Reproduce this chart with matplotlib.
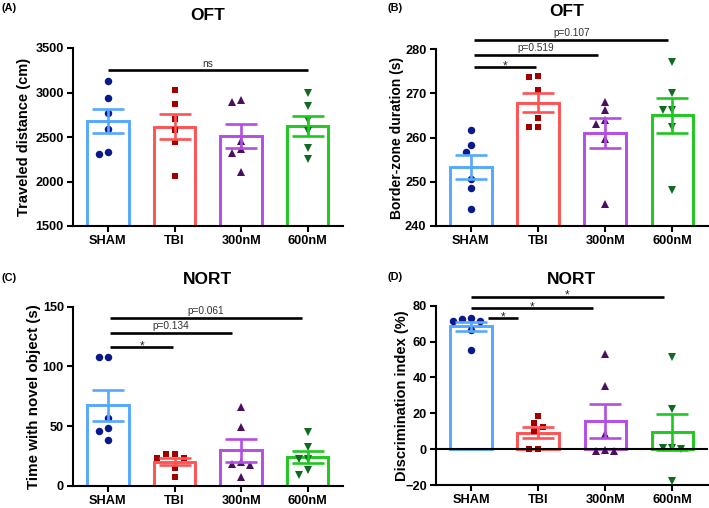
import numpy as np
import matplotlib
matplotlib.use('Agg')
import matplotlib.pyplot as plt

plt.rcParams['font.family'] = ['Liberation Sans', 'DejaVu Sans']

groups = ['SHAM', 'TBI', '300nM', '600nM']

# Panel A: OFT traveled distance (cm)
oft_distance = [
    [3130, 2941, 2774, 2589, 2330, 2307],
    [3026, 2870, 2700, 2581, 2448, 2063],
    [2889, 2915, 2452, 2370, 2322, 2107],
    [3000, 2848, 2693, 2563, 2378, 2256],
]
# Panel B: OFT border-zone duration (s)
oft_border = [
    [261.6, 258.3, 256.7, 250.7, 248.6, 243.8],
    [273.6, 273.9, 270.7, 264.4, 262.4, 262.4],
    [268.1, 266.3, 263.9, 263.1, 259.6, 245.0],
    [277.0, 270.0, 266.2, 266.2, 262.4, 248.1],
]
# Panel C: NORT time with novel object (s)
nort_time = [
    [107.5, 107.5, 56.4, 48.6, 46.1, 38.3],
    [26.3, 26.8, 23.0, 23.0, 14.5, 7.5],
    [66.2, 48.9, 19.6, 17.9, 17.3, 7.5],
    [44.7, 32.7, 22.3, 22.3, 13.1, 8.9],
]
# Panel D: NORT discrimination index (%)
nort_di = [
    [71.6, 72.5, 71.6, 72.9, 66.5, 55.3],
    [14.8, 18.3, 9.9, 12.1, 0.0, 0.0],
    [52.9, 35.1, 8.4, -0.4, -1.0, -1.3],
    [51.6, 22.6, 0.7, 0.4, -0.2, -17.6],
]

# significance comparisons: (start group, end group, height, label)
sig_A = [(0.0, 3.0, 3248, 'ns')]
sig_B = [(0.05, 0.97, 275.9, '*'), (0.05, 1.89, 278.7, 'p=0.519'), (0.05, 2.94, 282.1, 'p=0.107')]
sig_C = [(0.03, 0.98, 115.9, '*'), (0.03, 1.86, 128.2, 'p=0.134'), (0.03, 2.92, 140.8, 'p=0.061')]
sig_D = [(0.25, 0.70, 72.9, '*'), (0.0, 1.82, 78.5, '*'), (0.0, 2.87, 85.0, '*')]

bar_colors = ['#55A8FF', '#FF5252', '#B44CE6', '#1FC81F']
pt_colors = ['#0A1A8C', '#A00000', '#4A0F60', '#0F6B1E']
markers = ['o', 's', '^', 'v']
msizes = [5.4, 5.0, 5.6, 5.6]

W, H = 709, 508
fig = plt.figure(figsize=(W / 100, H / 100), dpi=100)


def swarm(vals, px_per_unit, diam=7.5):
    vals = np.asarray(vals, float)
    order = np.argsort(-vals)
    placed = []
    offs = np.zeros(len(vals))
    step = diam * 0.6
    for i in order:
        yp = vals[i] * px_per_unit
        for k in [0, -1, 1, -2, 2, -3, 3, -4, 4]:
            xp = k * step
            if all((xp - a) ** 2 + (yp - b) ** 2 >= (diam * 0.95) ** 2 for a, b in placed):
                break
        placed.append((xp, yp))
        offs[i] = xp
    return offs


def panel(rect_px, data, ylim, yticks, ylabel, ylabel_size, label_x, sig, zero_line=False):
    l, t, r, b = rect_px
    ax = fig.add_axes([l / W, 1 - b / H, (r - l) / W, (b - t) / H])
    xlim = (-0.525, 3.53)
    ax.set_xlim(*xlim)
    ax.set_ylim(*ylim)
    ax_h = b - t
    ax_w = r - l
    ppu_y = ax_h / (ylim[1] - ylim[0])
    ppu_x = ax_w / (xlim[1] - xlim[0])
    x = np.arange(len(groups))
    means = [np.mean(d) for d in data]
    sems = [np.std(d, ddof=1) / np.sqrt(len(d)) for d in data]
    ax.bar(x, means, width=0.62, bottom=0, color='white', edgecolor=bar_colors,
           linewidth=2.1, zorder=2)
    for i, d in enumerate(data):
        offs = swarm(d, ppu_y) / ppu_x
        ax.plot(i + offs, d, linestyle='none', marker=markers[i], ms=msizes[i],
                color=pt_colors[i], markeredgewidth=0, zorder=3)
        ax.errorbar(i, means[i], yerr=sems[i], color=bar_colors[i], elinewidth=1.9,
                    capsize=11.5, capthick=1.9, zorder=4)
    if zero_line:
        ax.axhline(0, color='black', lw=1.5, zorder=5)
    for (s, e, yv, lab) in sig:
        ax.plot([s, e], [yv, yv], color='black', lw=1.9, clip_on=False,
                solid_capstyle='butt', zorder=6)
        if lab == '*':
            ax.annotate(lab, xy=((s + e) / 2, yv), xytext=(0, -1.5), textcoords='offset points',
                        ha='center', va='baseline', fontsize=8.5, color='#222222',
                        annotation_clip=False)
        else:
            ax.annotate(lab, xy=((s + e) / 2, yv), xytext=(0, 2.8), textcoords='offset points',
                        ha='center', va='baseline', fontsize=7.3, color='#333333',
                        annotation_clip=False)
    ax.set_yticks(yticks)
    ax.set_xticks(x)
    ax.set_xticklabels(groups)
    for sp in ['top', 'right']:
        ax.spines[sp].set_visible(False)
    for sp in ['left', 'bottom']:
        ax.spines[sp].set_linewidth(1.5)
    ax.tick_params(axis='both', direction='out', length=4, width=1.5,
                   labelsize=9.2, pad=2.5)
    for tl in ax.get_xticklabels() + ax.get_yticklabels():
        tl.set_fontweight('bold')
    ax.set_ylabel(ylabel, fontsize=ylabel_size, fontweight='bold')
    ax.yaxis.set_label_coords(label_x, 0.5)
    return ax


panel((73, 48, 343, 226), oft_distance, (1500, 3500), [1500, 2000, 2500, 3000, 3500],
      'Traveled distance (cm)', 10.5, -0.157, sig_A)
panel((435.5, 49, 708, 226), oft_border, (240, 280), [240, 250, 260, 270, 280],
      'Border-zone duration (s)', 10.0, -0.116, sig_B)
panel((73, 306.7, 343, 485.7), nort_time, (0, 150), [0, 50, 100, 150],
      'Time with novel object (s)', 10.9, -0.118, sig_C)
panel((436, 305.7, 708, 485), nort_di, (-20, 80), [-20, 0, 20, 40, 60, 80],
      'Discrimination index (%)', 10.5, -0.099, sig_D, zero_line=True)

# titles
for (tx, ty, s) in [(208, 15, 'OFT'), (567, 12, 'OFT'), (208, 279, 'NORT'), (571, 279, 'NORT')]:
    fig.text(tx / W, 1 - ty / H, s, ha='center', va='center', fontsize=12.5, fontweight='bold')

# panel letters
for (tx, ty, s) in [(2, 3, '(A)'), (387, 3, '(B)'), (2, 273, '(C)'), (387, 272, '(D)')]:
    fig.text(tx / W, 1 - ty / H, s, ha='left', va='top', fontsize=7.8, fontweight='bold')

fig.savefig('out.png', dpi=100)
